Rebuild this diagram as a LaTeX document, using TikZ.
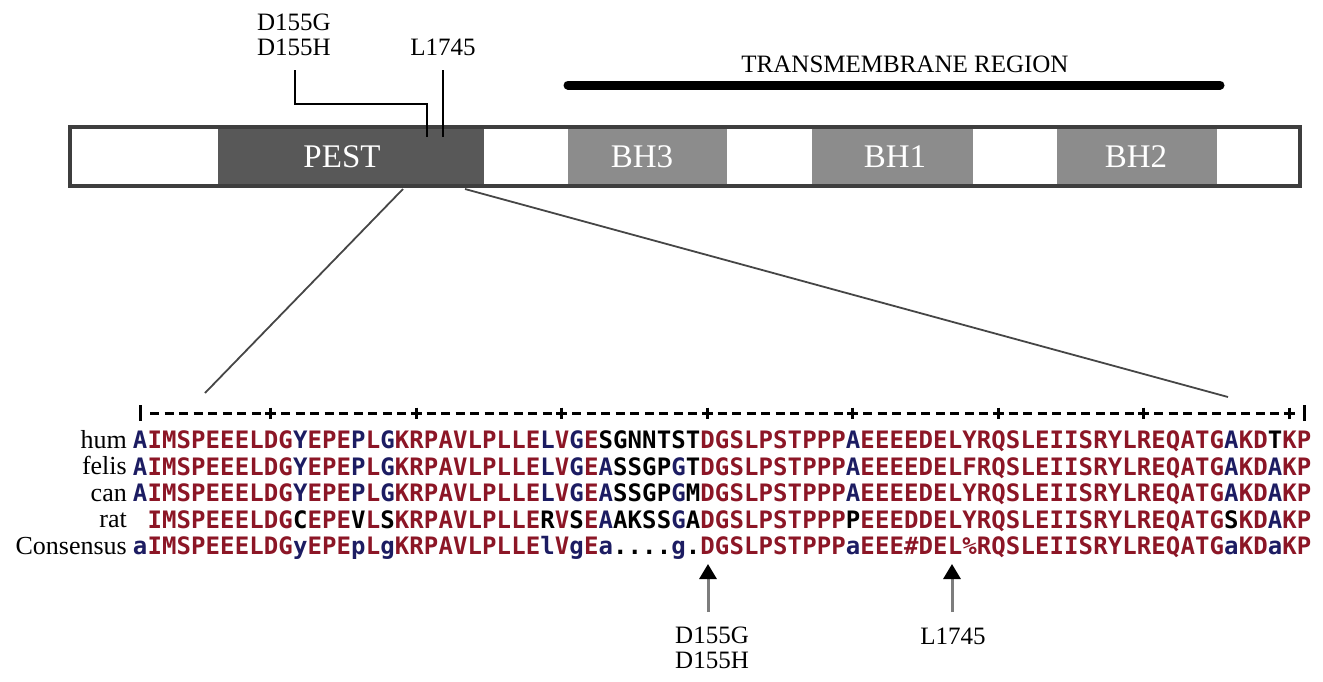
\documentclass[tikz,border=0pt]{standalone}
\usepackage{fontspec}
\setmainfont{Liberation Serif}
\newfontfamily\seqfont{DejaVu Sans Mono}
\usetikzlibrary{arrows.meta}
\definecolor{seqred}{RGB}{140,22,38}
\definecolor{seqblue}{RGB}{28,28,98}
\definecolor{pestgray}{RGB}{88,88,88}
\definecolor{bhgray}{RGB}{140,140,140}
\definecolor{bordergray}{RGB}{62,62,62}
\definecolor{fangray}{RGB}{70,70,70}
\definecolor{shaftgray}{RGB}{125,125,125}
\def\seqpitch{14.55pt}
\def\seqchars#1{\seqcharsA#1\relax}
\def\seqcharsA#1{\ifx#1\relax\else\makebox[\seqpitch]{#1}\expandafter\seqcharsA\fi}
\newcommand\R[1]{{\color{seqred}\seqchars{#1}}}
\newcommand\B[1]{{\color{seqblue}\seqchars{#1}}}
\newcommand\K[1]{{\color{black}\seqchars{#1}}}
\tikzset{
  seqrow/.style={anchor=base west, inner sep=0pt, font=\seqfont\bfseries\fontsize{24}{24}\selectfont},
  rowlabel/.style={anchor=base east, inner sep=0pt, font=\fontsize{26}{26}\selectfont},
  mutlabel/.style={align=center, inner sep=0pt, font=\fontsize{25}{25}\selectfont},
  domainbox/.style={draw=none, minimum height=59pt, inner sep=0pt},
  domaintext/.style={inner sep=0pt, text=white, font=\fontsize{33}{33}\selectfont},
  barline/.style={draw=bordergray, line width=3.8pt},
  mutline/.style={draw=black, line width=2pt},
  fanline/.style={draw=fangray, line width=1.8pt},
  rulerline/.style={draw=black, line width=3pt},
  mutarrow/.style={draw=shaftgray, line width=3pt, -{Triangle[width=17pt,length=15pt,color=black]}},
}
\begin{document}
\begin{tikzpicture}[x=1pt,y=-1pt]
\useasboundingbox (0,0) rectangle (1323,681);
% ---- protein bar ----
\node[domainbox, fill=pestgray, minimum width=266pt] (pest) at (351,156.5) {};
\node[domainbox, fill=bhgray, minimum width=159pt] (bh3) at (647.5,156.5) {};
\node[domainbox, fill=bhgray, minimum width=161pt] (bh1) at (892.5,156.5) {};
\node[domainbox, fill=bhgray, minimum width=160pt] (bh2) at (1137,156.5) {};
\node[domaintext] (pesttext) at (342,156.5) {PEST};
\node[domaintext] (bh3text) at (642,156.5) {BH3};
\node[domaintext] (bh1text) at (895,156.5) {BH1};
\node[domaintext] (bh2text) at (1136,156.5) {BH2};
\draw[barline] (70,127) rectangle (1300,186);
% ---- transmembrane ----
\node[mutlabel] (tmlabel) at (905,64) {TRANSMEMBRANE REGION};
\coordinate (tmA) at (568,85);
\coordinate (tmB) at (1220,85);
\draw[line width=9pt, line cap=round] (tmA) -- (tmB);
% ---- top mutation labels ----
\node[mutlabel] (topD) at (294,35) {D155G\\D155H};
\node[mutlabel] (topL) at (443,47) {L1745};
\coordinate (dA) at (295,70);
\coordinate (dC) at (427,104);
\coordinate (dD) at (427,137);
\draw[mutline] (dA) |- (dC) -- (dD);
\coordinate (lA) at (443,70);
\coordinate (lB) at (443,137);
\draw[mutline] (lA) -- (lB);
% ---- fan lines ----
\coordinate (fanL1) at (403,189);
\coordinate (fanL2) at (205,393);
\coordinate (fanR1) at (465,189);
\coordinate (fanR2) at (1228,397);
\draw[fanline] (fanL1) -- (fanL2);
\draw[fanline] (fanR1) -- (fanR2);
% ---- ruler ----
\draw[rulerline] (140,405) -- (140,421);
\draw[rulerline] (1304,405) -- (1304,421);
\foreach \k in {2,...,80}{
  \pgfmathtruncatemacro\m{mod(\k,10)}
  \pgfmathsetmacro\xx{140+(\k-1)*14.55}
  \ifnum\m=0
    \draw[rulerline] ({\xx-5.5},413) -- ({\xx+5.5},413) ({\xx},407.5) -- ({\xx},418.5);
  \else
    \draw[rulerline] ({\xx-4.5},413) -- ({\xx+4.5},413);
  \fi
}
% ---- alignment ----
\node[rowlabel] (lhum) at (127,448) {hum};
\node[rowlabel] (lfel) at (127,474.5) {felis};
\node[rowlabel] (lcan) at (127,501) {can};
\node[rowlabel] (lrat) at (127,527.5) {rat};
\node[rowlabel] (lcon) at (127,554) {Consensus};
\node[seqrow] (hum) at (132.725,448.5) {\B{A}\R{IMSPEEELDG}\B{Y}\R{EPE}\B{P}\R{L}\B{G}\R{KRPAVLPLLE}\B{L}\R{V}\B{G}\R{E}\K{SGNNTST}\R{DGSLPSTPPP}\B{A}\R{EEEEDELYRQSLEIISRYLREQATG}\B{A}\R{KD}\K{T}\R{KP}};
\node[seqrow] (fel) at (132.725,475) {\B{A}\R{IMSPEEELDG}\B{Y}\R{EPE}\B{P}\R{L}\B{G}\R{KRPAVLPLLE}\B{L}\R{V}\B{G}\R{E}\B{A}\K{SSGP}\B{G}\K{T}\R{DGSLPSTPPP}\B{A}\R{EEEEDELFRQSLEIISRYLREQATG}\B{A}\R{KD}\B{A}\R{KP}};
\node[seqrow] (can) at (132.725,501.5) {\B{A}\R{IMSPEEELDG}\B{Y}\R{EPE}\B{P}\R{L}\B{G}\R{KRPAVLPLLE}\B{L}\R{V}\B{G}\R{E}\B{A}\K{SSGP}\B{G}\K{M}\R{DGSLPSTPPP}\B{A}\R{EEEEDELYRQSLEIISRYLREQATG}\B{A}\R{KD}\B{A}\R{KP}};
\node[seqrow] (rat) at (132.725,528) {\K{~}\R{IMSPEEELDG}\K{C}\R{EPE}\K{V}\R{L}\K{S}\R{KRPAVLPLLE}\K{R}\R{V}\K{S}\R{E}\B{A}\K{AKSS}\B{G}\K{A}\R{DGSLPSTPPP}\K{P}\R{EEEDDELYRQSLEIISRYLREQATG}\K{S}\R{KD}\B{A}\R{KP}};
\node[seqrow] (con) at (132.725,554.5) {\B{a}\R{IMSPEEELDG}\B{y}\R{EPE}\B{p}\R{L}\B{g}\R{KRPAVLPLLE}\B{l}\R{V}\B{g}\R{E}\B{a}\K{....}\B{g}\K{.}\R{DGSLPSTPPP}\B{a}\R{EEE\#DEL\%RQSLEIISRYLREQATG}\B{a}\R{KD}\B{a}\R{KP}};
% ---- bottom mutation arrows ----
\node[mutlabel] (botD) at (712,648) {D155G\\D155H};
\node[mutlabel] (botL) at (953,636) {L1745};
\coordinate (a1s) at (708,612);
\coordinate (a1t) at (708,564);
\draw[mutarrow] (a1s) -- (a1t);
\coordinate (a2s) at (952,612);
\coordinate (a2t) at (952,564);
\draw[mutarrow] (a2s) -- (a2t);
\end{tikzpicture}
\end{document}
